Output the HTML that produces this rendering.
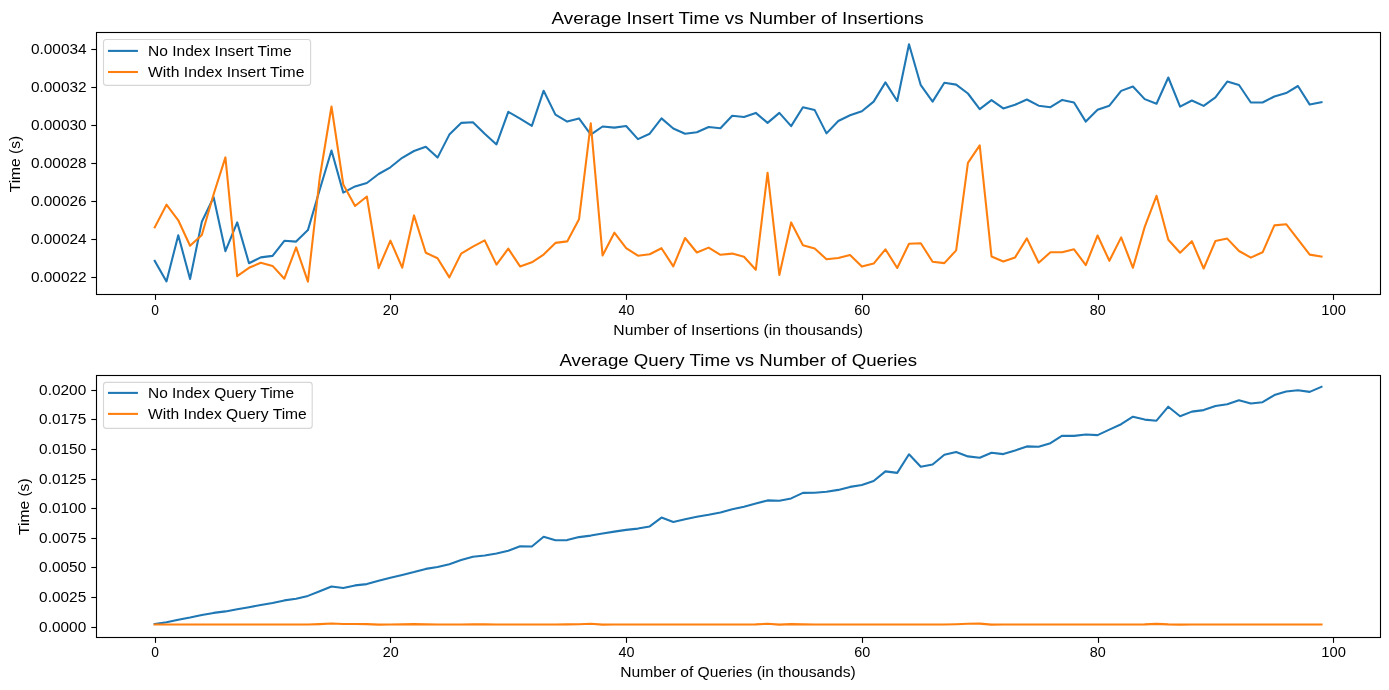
<!DOCTYPE html>
<html><head><meta charset="utf-8"><title>Insert/Query Time</title>
<style>
html,body{margin:0;padding:0;background:#fff;}
body{width:1389px;height:690px;overflow:hidden;font-family:"Liberation Sans",sans-serif;}
svg{display:block;will-change:transform;}
text{font-family:"Liberation Sans",sans-serif;fill:#000;}
</style></head><body>
<svg width="1389" height="690" viewBox="0 0 1389 690">
<rect x="0" y="0" width="1389" height="690" fill="#ffffff"/>
<clipPath id="c1"><rect x="96.5" y="32.5" width="1284.0" height="262.0"/></clipPath>
<polyline points="154.70,260.80 166.49,281.40 178.27,235.20 190.06,279.10 201.84,221.80 213.63,197.30 225.42,251.20 237.20,222.40 248.99,263.20 260.77,257.40 272.56,255.90 284.35,240.80 296.13,241.60 307.92,230.10 319.70,189.80 331.49,150.50 343.28,192.60 355.06,186.40 366.85,183.00 378.63,174.00 390.42,167.30 402.21,157.80 413.99,151.00 425.78,146.70 437.56,157.60 449.35,134.60 461.14,122.90 472.92,122.20 484.71,133.70 496.49,144.40 508.28,111.80 520.07,118.60 531.85,125.80 543.64,90.70 555.42,114.60 567.21,121.60 579.00,118.40 590.78,134.60 602.57,126.50 614.35,127.60 626.14,126.00 637.93,139.10 649.71,133.70 661.50,118.40 673.28,128.50 685.07,133.80 696.86,132.30 708.64,127.00 720.43,128.30 732.21,115.70 744.00,117.00 755.79,112.90 767.57,122.90 779.36,112.90 791.14,126.10 802.93,107.20 814.72,110.10 826.50,133.40 838.29,121.00 850.07,115.30 861.86,111.20 873.65,101.60 885.43,82.40 897.22,101.00 909.00,44.30 920.79,85.20 932.58,101.60 944.36,82.80 956.15,84.60 967.93,93.50 979.72,109.10 991.51,100.10 1003.29,108.40 1015.08,104.80 1026.86,99.50 1038.65,105.70 1050.44,107.20 1062.22,99.90 1074.01,102.50 1085.79,121.60 1097.58,109.70 1109.37,105.70 1121.15,90.90 1132.94,86.50 1144.72,99.10 1156.51,103.70 1168.30,77.50 1180.08,106.70 1191.87,100.50 1203.65,105.90 1215.44,97.40 1227.23,81.60 1239.01,85.00 1250.80,102.50 1262.58,102.50 1274.37,96.50 1286.16,93.10 1297.94,86.00 1309.73,104.60 1321.51,102.20" fill="none" stroke="#1f77b4" stroke-width="2.08" stroke-linejoin="round" stroke-linecap="square"/>
<polyline points="154.70,227.40 166.49,204.70 178.27,220.30 190.06,245.70 201.84,235.00 213.63,194.30 225.42,157.40 237.20,276.20 248.99,267.80 260.77,262.70 272.56,265.90 284.35,278.70 296.13,247.40 307.92,281.70 319.70,178.00 331.49,106.50 343.28,184.50 355.06,206.00 366.85,196.50 378.63,268.10 390.42,240.60 402.21,267.70 413.99,215.40 425.78,252.70 437.56,258.30 449.35,277.40 461.14,253.60 472.92,246.70 484.71,240.40 496.49,264.60 508.28,248.70 520.07,266.40 531.85,262.30 543.64,254.60 555.42,242.90 567.21,241.40 579.00,219.30 590.78,123.30 602.57,255.50 614.35,232.70 626.14,248.20 637.93,255.70 649.71,254.20 661.50,248.20 673.28,266.40 685.07,238.00 696.86,252.50 708.64,247.60 720.43,254.80 732.21,253.60 744.00,256.80 755.79,269.80 767.57,172.70 779.36,275.00 791.14,222.40 802.93,245.30 814.72,248.50 826.50,259.30 838.29,258.00 850.07,255.00 861.86,266.60 873.65,263.60 885.43,249.30 897.22,268.00 909.00,243.80 920.79,243.30 932.58,261.70 944.36,263.10 956.15,250.40 967.93,162.80 979.72,145.30 991.51,256.50 1003.29,261.50 1015.08,257.40 1026.86,238.40 1038.65,262.70 1050.44,252.30 1062.22,252.30 1074.01,249.30 1085.79,265.10 1097.58,235.50 1109.37,260.80 1121.15,237.40 1132.94,267.80 1144.72,226.90 1156.51,195.80 1168.30,239.70 1180.08,252.70 1191.87,241.20 1203.65,268.50 1215.44,241.00 1227.23,238.60 1239.01,251.00 1250.80,257.60 1262.58,252.30 1274.37,225.40 1286.16,224.20 1297.94,239.30 1309.73,254.60 1321.51,256.60" fill="none" stroke="#ff7f0e" stroke-width="2.08" stroke-linejoin="round" stroke-linecap="square"/>
<polyline points="154.70,624.00 166.49,622.30 178.27,619.80 190.06,617.60 201.84,615.10 213.63,612.90 225.42,611.40 237.20,609.30 248.99,607.20 260.77,605.00 272.56,602.90 284.35,600.40 296.13,598.70 307.92,595.90 319.70,591.20 331.49,586.50 343.28,588.00 355.06,585.40 366.85,584.10 378.63,580.70 390.42,577.80 402.21,575.00 413.99,572.10 425.78,568.90 437.56,567.00 449.35,564.20 461.14,560.10 472.92,556.70 484.71,555.50 496.49,553.50 508.28,550.80 520.07,546.30 531.85,546.50 543.64,536.70 555.42,540.30 567.21,540.10 579.00,537.10 590.78,535.60 602.57,533.50 614.35,531.60 626.14,529.90 637.93,528.60 649.71,526.40 661.50,517.60 673.28,521.90 685.07,519.30 696.86,516.80 708.64,514.80 720.43,512.50 732.21,509.30 744.00,506.70 755.79,503.50 767.57,500.40 779.36,500.80 791.14,498.40 802.93,492.90 814.72,492.70 826.50,491.80 838.29,489.90 850.07,486.90 861.86,485.00 873.65,481.00 885.43,471.40 897.22,472.90 909.00,454.30 920.79,466.70 932.58,464.50 944.36,454.70 956.15,452.10 967.93,456.40 979.72,457.70 991.51,452.80 1003.29,454.10 1015.08,450.50 1026.86,446.40 1038.65,446.80 1050.44,443.20 1062.22,435.70 1074.01,435.90 1085.79,434.50 1097.58,435.10 1109.37,429.60 1121.15,424.20 1132.94,416.70 1144.72,419.60 1156.51,420.70 1168.30,406.70 1180.08,416.20 1191.87,411.60 1203.65,410.10 1215.44,406.00 1227.23,404.30 1239.01,400.30 1250.80,403.50 1262.58,402.20 1274.37,395.10 1286.16,391.50 1297.94,390.20 1309.73,391.90 1321.51,386.80" fill="none" stroke="#1f77b4" stroke-width="2.08" stroke-linejoin="round" stroke-linecap="square"/>
<polyline points="154.70,624.55 166.49,624.55 178.27,624.55 190.06,624.55 201.84,624.55 213.63,624.55 225.42,624.55 237.20,624.55 248.99,624.55 260.77,624.55 272.56,624.55 284.35,624.55 296.13,624.55 307.92,624.50 319.70,624.10 331.49,623.45 343.28,624.00 355.06,624.00 366.85,624.10 378.63,624.60 390.42,624.55 402.21,624.40 413.99,624.10 425.78,624.40 437.56,624.55 449.35,624.55 461.14,624.55 472.92,624.35 484.71,624.30 496.49,624.55 508.28,624.55 520.07,624.55 531.85,624.55 543.64,624.55 555.42,624.45 567.21,624.40 579.00,624.25 590.78,623.80 602.57,624.60 614.35,624.55 626.14,624.55 637.93,624.55 649.71,624.55 661.50,624.55 673.28,624.55 685.07,624.55 696.86,624.55 708.64,624.55 720.43,624.55 732.21,624.55 744.00,624.55 755.79,624.35 767.57,623.80 779.36,624.65 791.14,624.15 802.93,624.40 814.72,624.55 826.50,624.55 838.29,624.55 850.07,624.55 861.86,624.55 873.65,624.55 885.43,624.55 897.22,624.55 909.00,624.55 920.79,624.55 932.58,624.55 944.36,624.45 956.15,624.20 967.93,623.70 979.72,623.65 991.51,624.65 1003.29,624.55 1015.08,624.55 1026.86,624.55 1038.65,624.55 1050.44,624.55 1062.22,624.55 1074.01,624.55 1085.79,624.55 1097.58,624.55 1109.37,624.55 1121.15,624.55 1132.94,624.55 1144.72,624.35 1156.51,623.85 1168.30,624.40 1180.08,624.60 1191.87,624.55 1203.65,624.55 1215.44,624.55 1227.23,624.55 1239.01,624.55 1250.80,624.55 1262.58,624.55 1274.37,624.55 1286.16,624.55 1297.94,624.55 1309.73,624.55 1321.51,624.55" fill="none" stroke="#ff7f0e" stroke-width="2.08" stroke-linejoin="round" stroke-linecap="square"/>
<rect x="96.5" y="32.5" width="1284.0" height="262.0" fill="none" stroke="#000" stroke-width="1.11"/>
<rect x="96.5" y="375.5" width="1284.0" height="262.0" fill="none" stroke="#000" stroke-width="1.11"/>
<line x1="155.5" y1="294.5" x2="155.5" y2="299.86" stroke="#000" stroke-width="1.11"/>
<text x="155.00" y="315.00" font-size="14.1" text-anchor="middle" textLength="7.70" lengthAdjust="spacingAndGlyphs">0</text>
<line x1="390.5" y1="294.5" x2="390.5" y2="299.86" stroke="#000" stroke-width="1.11"/>
<text x="390.72" y="315.00" font-size="14.1" text-anchor="middle" textLength="16.00" lengthAdjust="spacingAndGlyphs">20</text>
<line x1="626.5" y1="294.5" x2="626.5" y2="299.86" stroke="#000" stroke-width="1.11"/>
<text x="626.44" y="315.00" font-size="14.1" text-anchor="middle" textLength="16.00" lengthAdjust="spacingAndGlyphs">40</text>
<line x1="862.5" y1="294.5" x2="862.5" y2="299.86" stroke="#000" stroke-width="1.11"/>
<text x="862.16" y="315.00" font-size="14.1" text-anchor="middle" textLength="16.00" lengthAdjust="spacingAndGlyphs">60</text>
<line x1="1098.5" y1="294.5" x2="1098.5" y2="299.86" stroke="#000" stroke-width="1.11"/>
<text x="1097.88" y="315.00" font-size="14.1" text-anchor="middle" textLength="16.00" lengthAdjust="spacingAndGlyphs">80</text>
<line x1="1333.5" y1="294.5" x2="1333.5" y2="299.86" stroke="#000" stroke-width="1.11"/>
<text x="1333.60" y="315.00" font-size="14.1" text-anchor="middle" textLength="24.60" lengthAdjust="spacingAndGlyphs">100</text>
<line x1="91.30" y1="277.5" x2="96.5" y2="277.5" stroke="#000" stroke-width="1.11"/>
<text x="86.60" y="282.05" font-size="14.1" text-anchor="end" textLength="55.70" lengthAdjust="spacingAndGlyphs">0.00022</text>
<line x1="91.30" y1="239.5" x2="96.5" y2="239.5" stroke="#000" stroke-width="1.11"/>
<text x="86.60" y="244.05" font-size="14.1" text-anchor="end" textLength="55.70" lengthAdjust="spacingAndGlyphs">0.00024</text>
<line x1="91.30" y1="201.5" x2="96.5" y2="201.5" stroke="#000" stroke-width="1.11"/>
<text x="86.60" y="206.05" font-size="14.1" text-anchor="end" textLength="55.70" lengthAdjust="spacingAndGlyphs">0.00026</text>
<line x1="91.30" y1="163.5" x2="96.5" y2="163.5" stroke="#000" stroke-width="1.11"/>
<text x="86.60" y="168.05" font-size="14.1" text-anchor="end" textLength="55.70" lengthAdjust="spacingAndGlyphs">0.00028</text>
<line x1="91.30" y1="125.5" x2="96.5" y2="125.5" stroke="#000" stroke-width="1.11"/>
<text x="86.60" y="130.05" font-size="14.1" text-anchor="end" textLength="55.70" lengthAdjust="spacingAndGlyphs">0.00030</text>
<line x1="91.30" y1="87.5" x2="96.5" y2="87.5" stroke="#000" stroke-width="1.11"/>
<text x="86.60" y="92.05" font-size="14.1" text-anchor="end" textLength="55.70" lengthAdjust="spacingAndGlyphs">0.00032</text>
<line x1="91.30" y1="49.5" x2="96.5" y2="49.5" stroke="#000" stroke-width="1.11"/>
<text x="86.60" y="54.05" font-size="14.1" text-anchor="end" textLength="55.70" lengthAdjust="spacingAndGlyphs">0.00034</text>
<line x1="155.5" y1="637.5" x2="155.5" y2="642.86" stroke="#000" stroke-width="1.11"/>
<text x="155.00" y="657.10" font-size="14.1" text-anchor="middle" textLength="7.70" lengthAdjust="spacingAndGlyphs">0</text>
<line x1="390.5" y1="637.5" x2="390.5" y2="642.86" stroke="#000" stroke-width="1.11"/>
<text x="390.72" y="657.10" font-size="14.1" text-anchor="middle" textLength="16.00" lengthAdjust="spacingAndGlyphs">20</text>
<line x1="626.5" y1="637.5" x2="626.5" y2="642.86" stroke="#000" stroke-width="1.11"/>
<text x="626.44" y="657.10" font-size="14.1" text-anchor="middle" textLength="16.00" lengthAdjust="spacingAndGlyphs">40</text>
<line x1="862.5" y1="637.5" x2="862.5" y2="642.86" stroke="#000" stroke-width="1.11"/>
<text x="862.16" y="657.10" font-size="14.1" text-anchor="middle" textLength="16.00" lengthAdjust="spacingAndGlyphs">60</text>
<line x1="1098.5" y1="637.5" x2="1098.5" y2="642.86" stroke="#000" stroke-width="1.11"/>
<text x="1097.88" y="657.10" font-size="14.1" text-anchor="middle" textLength="16.00" lengthAdjust="spacingAndGlyphs">80</text>
<line x1="1333.5" y1="637.5" x2="1333.5" y2="642.86" stroke="#000" stroke-width="1.11"/>
<text x="1333.60" y="657.10" font-size="14.1" text-anchor="middle" textLength="24.60" lengthAdjust="spacingAndGlyphs">100</text>
<line x1="91.30" y1="627.5" x2="96.5" y2="627.5" stroke="#000" stroke-width="1.11"/>
<text x="86.20" y="632.05" font-size="14.1" text-anchor="end" textLength="47.10" lengthAdjust="spacingAndGlyphs">0.0000</text>
<line x1="91.30" y1="597.5" x2="96.5" y2="597.5" stroke="#000" stroke-width="1.11"/>
<text x="86.20" y="602.05" font-size="14.1" text-anchor="end" textLength="47.10" lengthAdjust="spacingAndGlyphs">0.0025</text>
<line x1="91.30" y1="567.5" x2="96.5" y2="567.5" stroke="#000" stroke-width="1.11"/>
<text x="86.20" y="572.05" font-size="14.1" text-anchor="end" textLength="47.10" lengthAdjust="spacingAndGlyphs">0.0050</text>
<line x1="91.30" y1="538.5" x2="96.5" y2="538.5" stroke="#000" stroke-width="1.11"/>
<text x="86.20" y="543.05" font-size="14.1" text-anchor="end" textLength="47.10" lengthAdjust="spacingAndGlyphs">0.0075</text>
<line x1="91.30" y1="508.5" x2="96.5" y2="508.5" stroke="#000" stroke-width="1.11"/>
<text x="86.20" y="513.05" font-size="14.1" text-anchor="end" textLength="47.10" lengthAdjust="spacingAndGlyphs">0.0100</text>
<line x1="91.30" y1="479.5" x2="96.5" y2="479.5" stroke="#000" stroke-width="1.11"/>
<text x="86.20" y="484.05" font-size="14.1" text-anchor="end" textLength="47.10" lengthAdjust="spacingAndGlyphs">0.0125</text>
<line x1="91.30" y1="449.5" x2="96.5" y2="449.5" stroke="#000" stroke-width="1.11"/>
<text x="86.20" y="454.05" font-size="14.1" text-anchor="end" textLength="47.10" lengthAdjust="spacingAndGlyphs">0.0150</text>
<line x1="91.30" y1="419.5" x2="96.5" y2="419.5" stroke="#000" stroke-width="1.11"/>
<text x="86.20" y="424.05" font-size="14.1" text-anchor="end" textLength="47.10" lengthAdjust="spacingAndGlyphs">0.0175</text>
<line x1="91.30" y1="390.5" x2="96.5" y2="390.5" stroke="#000" stroke-width="1.11"/>
<text x="86.20" y="395.05" font-size="14.1" text-anchor="end" textLength="47.10" lengthAdjust="spacingAndGlyphs">0.0200</text>
<text x="551.60" y="23.70" font-size="17" textLength="372.00" lengthAdjust="spacingAndGlyphs">Average Insert Time vs Number of Insertions</text>
<text x="559.50" y="366.30" font-size="17" textLength="357.50" lengthAdjust="spacingAndGlyphs">Average Query Time vs Number of Queries</text>
<text x="613.30" y="335.10" font-size="14.1" textLength="249.80" lengthAdjust="spacingAndGlyphs">Number of Insertions (in thousands)</text>
<text x="620.30" y="677.00" font-size="14.1" textLength="235.40" lengthAdjust="spacingAndGlyphs">Number of Queries (in thousands)</text>
<text x="19.90" y="192.30" font-size="14.1" textLength="56.60" lengthAdjust="spacingAndGlyphs" transform="rotate(-90 19.90 192.30)">Time (s)</text>
<text x="28.90" y="535.00" font-size="14.1" textLength="56.60" lengthAdjust="spacingAndGlyphs" transform="rotate(-90 28.90 535.00)">Time (s)</text>
<rect x="103.5" y="39.5" width="207.10" height="45.90" rx="2.8" ry="2.8" fill="#fff" fill-opacity="0.8" stroke="#cccccc" stroke-opacity="0.8" stroke-width="1.11"/>
<line x1="109.0" y1="50.9" x2="136.9" y2="50.9" stroke="#1f77b4" stroke-width="2.08" stroke-linecap="square"/>
<text x="148.00" y="55.90" font-size="14.1" textLength="143.60" lengthAdjust="spacingAndGlyphs">No Index Insert Time</text>
<line x1="109.0" y1="72.0" x2="136.9" y2="72.0" stroke="#ff7f0e" stroke-width="2.08" stroke-linecap="square"/>
<text x="148.00" y="76.90" font-size="14.1" textLength="156.40" lengthAdjust="spacingAndGlyphs">With Index Insert Time</text>
<rect x="103.5" y="382.4" width="208.70" height="46.00" rx="2.8" ry="2.8" fill="#fff" fill-opacity="0.8" stroke="#cccccc" stroke-opacity="0.8" stroke-width="1.11"/>
<line x1="109.0" y1="392.9" x2="136.9" y2="392.9" stroke="#1f77b4" stroke-width="2.08" stroke-linecap="square"/>
<text x="148.00" y="397.80" font-size="14.1" textLength="146.10" lengthAdjust="spacingAndGlyphs">No Index Query Time</text>
<line x1="109.0" y1="413.9" x2="136.9" y2="413.9" stroke="#ff7f0e" stroke-width="2.08" stroke-linecap="square"/>
<text x="148.00" y="418.80" font-size="14.1" textLength="158.80" lengthAdjust="spacingAndGlyphs">With Index Query Time</text>
</svg>
</body></html>
